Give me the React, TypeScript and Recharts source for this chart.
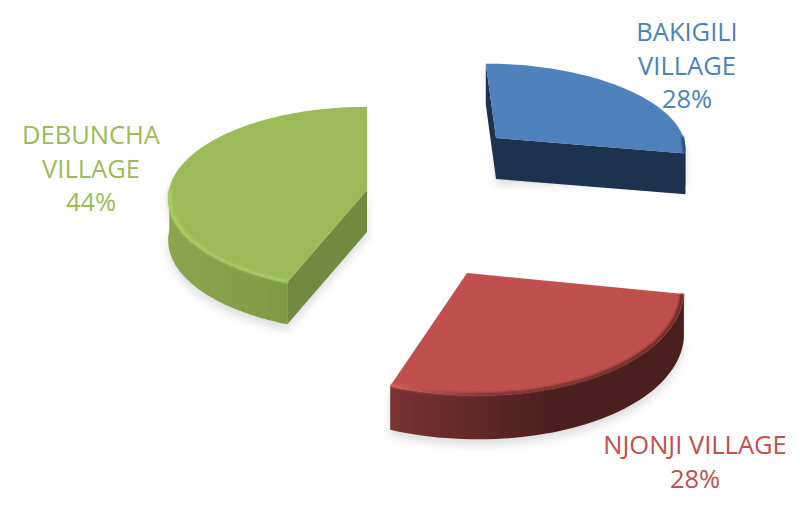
import { PieChart, Pie } from "recharts";

const NAMES = ["BAKIGILI VILLAGE", "NJONJI VILLAGE", "DEBUNCHA VILLAGE"];
const SHARES = [28, 28, 44];
const COLORS = ["#4f81bd", "#c0504d", "#9bbb59"];
const LABEL_LINES = [["BAKIGILI", "VILLAGE"], ["NJONJI VILLAGE"], ["DEBUNCHA", "VILLAGE"]];

// exploded offset of each slice from the pie centre, and where its label goes
const OFFSETS = [[66, -52], [37, 83], [-63, 0]];
const LABEL_POS = [[687, 31], [695, 444], [91, 134]];
const LABEL_STEP = 33.5;

const WALL_FLAT = ["#1d324e", "#4b1f1d", "#718a40"];
const WALL_LEFT = ["#1d324e", "#7a3331", "#8ba54e"];
const WALL_MID = ["#1d324e", "#4b1f1d", "#7f9c45"];
const WALL_RIGHT = ["#1d324e", "#4b1f1d", "#6f883e"];
const RIM_LEFT = ["#3a5f8e", "#d4625e", "#a9d062"];
const RIM_MID = ["#2b4a73", "#7a3533", "#a2c85f"];
const RIM_RIGHT = ["#2b4a73", "#642a28", "#aed565"];

const data = NAMES.map((name, i) => ({ name, value: SHARES[i], fill: COLORS[i] }));

// camera: receding lines meet at this point
const VANISH_X = 367;
const VANISH_Y = -800;
const DEPTH = 10.9;
const DEPTH_PER_PX = 0.0138; // nearer slices foreshorten more
const THICKNESS = 42;

const toPath = (pts: number[][], close = true) =>
  pts.map((p, i) => `${i ? "L" : "M"}${p[0].toFixed(1)} ${p[1].toFixed(1)}`).join("") + (close ? "Z" : "");

function Slice3D(props: any) {
  const { cx, cy, outerRadius, startAngle, endAngle, fill, name } = props;
  const i = NAMES.indexOf(name);
  const ax = cx + OFFSETS[i][0];
  const ay = cy + OFFSETS[i][1];
  const scale = (ay - VANISH_Y) / (cy - VANISH_Y);
  const drop = THICKNESS * (1 + (scale - 1) * 0.5);
  const depth = DEPTH - DEPTH_PER_PX * OFFSETS[i][1];

  const project = (deg: number, r: number) => {
    const a = (deg * Math.PI) / 180;
    const k = depth / (depth + r * Math.sin(a));
    return [
      VANISH_X + (ax - VANISH_X + r * Math.cos(a) * outerRadius * scale) * k,
      VANISH_Y + (ay - VANISH_Y) * k,
    ];
  };
  const down = (p: number[]) => [p[0], p[1] + drop];

  const angles: number[] = [];
  const steps = Math.ceil(Math.abs(endAngle - startAngle) / 2);
  for (let s = 0; s <= steps; s++) {
    angles.push(startAngle + ((endAngle - startAngle) * s) / steps);
  }
  const isFront = (deg: number) => Math.sin((deg * Math.PI) / 180) <= 0.05;
  const arc = angles.map((a) => project(a, 1));
  const apex = project(0, 0);
  const first = arc[0];
  const last = arc[arc.length - 1];
  const top = [apex, ...arc];

  // radial walls show only when pushing the edge down moves it outward
  const walls: number[][][] = [];
  if (first[0] < apex[0]) walls.push([apex, first, down(first), down(apex)]);
  if (apex[0] < last[0]) walls.push([last, apex, down(apex), down(last)]);

  const front = angles.filter(isFront).map((a) => project(a, 1));
  const xs = arc.map((p) => p[0]);
  const minX = Math.min(...xs);
  const maxX = Math.max(...xs);
  const rimFront = angles.filter(isFront).map((a) => project(a, 0.992));

  return (
    <g>
      <defs>
        <linearGradient id={`wall${i}`} gradientUnits="userSpaceOnUse" x1={minX} x2={maxX} y1={0} y2={0}>
          <stop offset="0%" stopColor={WALL_LEFT[i]} />
          <stop offset="55%" stopColor={WALL_MID[i]} />
          <stop offset="100%" stopColor={WALL_RIGHT[i]} />
        </linearGradient>
        <linearGradient id={`rim${i}`} gradientUnits="userSpaceOnUse" x1={minX} x2={maxX} y1={0} y2={0}>
          <stop offset="0%" stopColor={RIM_LEFT[i]} />
          <stop offset="30%" stopColor={RIM_MID[i]} />
          <stop offset="100%" stopColor={RIM_RIGHT[i]} />
        </linearGradient>
        <filter id={`soft${i}`} x="-20%" y="-20%" width="140%" height="140%">
          <feGaussianBlur stdDeviation="5" />
        </filter>
        <filter id={`softRim${i}`} x="-5%" y="-5%" width="110%" height="110%">
          <feGaussianBlur stdDeviation="1.2" />
        </filter>
      </defs>
      <path
        d={toPath([...top, ...front.map(down).reverse(), down(apex)])}
        transform="translate(0,6)"
        fill="#000"
        opacity={0.13}
        filter={`url(#soft${i})`}
      />
      <path d={toPath([...front, ...front.map(down).reverse()])} fill={`url(#wall${i})`} />
      {walls.map((w, n) => (
        <path key={n} d={toPath(w)} fill={WALL_FLAT[i]} />
      ))}
      <path d={toPath(top)} fill={fill} />
      <path
        d={toPath(rimFront, false)}
        fill="none"
        stroke={`url(#rim${i})`}
        strokeWidth={3.5}
        filter={`url(#softRim${i})`}
      />
    </g>
  );
}

function SliceLabel(props: any) {
  const i = NAMES.indexOf(props.name);
  const [x, y] = LABEL_POS[i];
  const lines = [...LABEL_LINES[i], `${SHARES[i]}%`];
  return (
    <text x={x} textAnchor="middle" fill={COLORS[i]} fontFamily="Open Sans" fontSize={25.5}>
      {lines.map((line, n) => (
        <tspan key={n} x={x} y={y + n * LABEL_STEP} dominantBaseline="central">
          {line}
        </tspan>
      ))}
    </text>
  );
}

export default function App() {
  return (
    <div style={{ position: "absolute", left: 0, top: 0, width: 800, height: 514, background: "#fff" }}>
      <PieChart width={800} height={514} margin={{ top: 0, right: 0, bottom: 0, left: 0 }}>
        <Pie
          data={data}
          dataKey="value"
          nameKey="name"
          cx={430}
          cy={190}
          outerRadius={198}
          startAngle={90}
          endAngle={-270}
          stroke="none"
          shape={Slice3D}
          label={SliceLabel}
          labelLine={false}
          isAnimationActive={false}
        />
      </PieChart>
    </div>
  );
}
